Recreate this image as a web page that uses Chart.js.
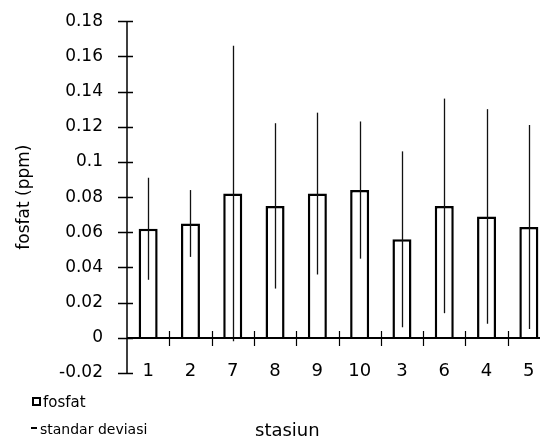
<!DOCTYPE html>
<html>
<head>
<meta charset="utf-8">
<script src="https://cdn.jsdelivr.net/npm/chart.js@4"></script>
<style>
  body { margin: 0; background: #fff; overflow: hidden; }
  #wrap { position: relative; width: 540px; height: 443px; overflow: hidden; }
  #chart { position: absolute; left: 0; top: 0; }
  .txt { position: absolute; font-family: "DejaVu Sans", sans-serif; color: #000; white-space: nowrap; }
  .swatch { position: absolute; box-sizing: border-box; }
</style>
</head>
<body>
<div id="wrap">
  <canvas id="chart" width="550" height="443"></canvas>
  <div class="swatch" style="left:32px; top:397px; width:9px; height:9px; border:2px solid #000; background:#fff;"></div>
  <div class="txt" style="left:43px; top:393px; font-size:15px; line-height:18px;">fosfat</div>
  <div class="swatch" style="left:31px; top:427px; width:6px; height:2px; background:#000;"></div>
  <div class="txt" style="left:40px; top:420px; font-size:14px; line-height:18px;">standar deviasi</div>
  <div class="txt" style="left:255px; top:419px; font-size:18px; line-height:22px;">stasiun</div>
</div>
<script>
const stasiun = ['1', '2', '7', '8', '9', '10', '3', '6', '4', '5'];
const fosfat = [0.062, 0.065, 0.082, 0.075, 0.082, 0.084, 0.056, 0.075, 0.069, 0.063];
const standarDeviasi = [0.029, 0.019, 0.084, 0.047, 0.046, 0.039, 0.050, 0.061, 0.061, 0.058];
const yTicks = [-0.02, 0, 0.02, 0.04, 0.06, 0.08, 0.1, 0.12, 0.14, 0.16, 0.18];

const font = 'DejaVu Sans';

// error lines (no caps) plus the axis lines with their crossing tick marks
const axisMarks = {
  id: 'axisMarks',
  afterDatasetsDraw(chart) {
    const { ctx, chartArea: area, scales: { x, y } } = chart;
    const bars = chart.getDatasetMeta(0).data;
    ctx.save();

    ctx.strokeStyle = '#111';
    ctx.lineWidth = 1.3;
    bars.forEach((bar, i) => {
      const px = Math.round(bar.x) + 0.5;
      ctx.beginPath();
      ctx.moveTo(px, y.getPixelForValue(fosfat[i] + standarDeviasi[i]));
      ctx.lineTo(px, y.getPixelForValue(fosfat[i] - standarDeviasi[i]));
      ctx.stroke();
    });

    ctx.strokeStyle = '#000';
    ctx.lineWidth = 1.5;
    const ax = area.left;
    ctx.beginPath();
    ctx.moveTo(ax, y.getPixelForValue(yTicks[yTicks.length - 1]));
    ctx.lineTo(ax, y.getPixelForValue(yTicks[0]));
    yTicks.forEach(v => {
      const py = Math.round(y.getPixelForValue(v)) + 0.5;
      ctx.moveTo(ax - 9, py);
      ctx.lineTo(ax + 6, py);
    });
    ctx.stroke();

    const y0 = Math.round(y.getPixelForValue(0));
    ctx.lineWidth = 2;
    ctx.beginPath();
    ctx.moveTo(ax, y0);
    ctx.lineTo(area.right, y0);
    ctx.stroke();

    ctx.lineWidth = 1.2;
    ctx.beginPath();
    for (let i = 1; i < stasiun.length; i++) {
      const px = Math.round((x.getPixelForValue(i - 1) + x.getPixelForValue(i)) / 2) + 0.5;
      ctx.moveTo(px, y0 - 7);
      ctx.lineTo(px, y0 + 8);
    }
    ctx.stroke();
    ctx.restore();
  }
};

new Chart(document.getElementById('chart'), {
  type: 'bar',
  data: {
    labels: stasiun,
    datasets: [{
      label: 'fosfat',
      data: fosfat,
      backgroundColor: '#fff',
      borderColor: '#000',
      borderWidth: 2.5,
      barPercentage: 0.45,
      categoryPercentage: 1
    }]
  },
  options: {
    responsive: false,
    animation: false,
    devicePixelRatio: 1,
    layout: { padding: { top: 0, right: 0, bottom: 70, left: 0 } },
    plugins: { legend: { display: false }, tooltip: { enabled: false } },
    scales: {
      x: {
        position: { y: 0 },
        // tick marks are drawn by axisMarks; tickLength only spaces the labels
        grid: { display: false, drawTicks: true, tickLength: 20 },
        border: { display: false },
        ticks: { padding: 3, color: '#000', font: { family: font, size: 18 }, maxRotation: 0, autoSkip: false }
      },
      y: {
        min: yTicks[0],
        max: yTicks[yTicks.length - 1],
        afterBuildTicks(scale) { scale.ticks = yTicks.map(v => ({ value: v })); },
        grid: { display: false, drawTicks: true, tickLength: 13 },
        border: { display: false },
        ticks: { padding: 11, color: '#000', font: { family: font, size: 17 }, callback: v => String(v) },
        title: { display: true, text: 'fosfat (ppm)', color: '#000', font: { family: font, size: 17 }, padding: { top: 14, bottom: 0 } },
        afterFit(scale) { scale.width = 127; }
      }
    }
  },
  plugins: [axisMarks]
});
</script>
</body>
</html>
